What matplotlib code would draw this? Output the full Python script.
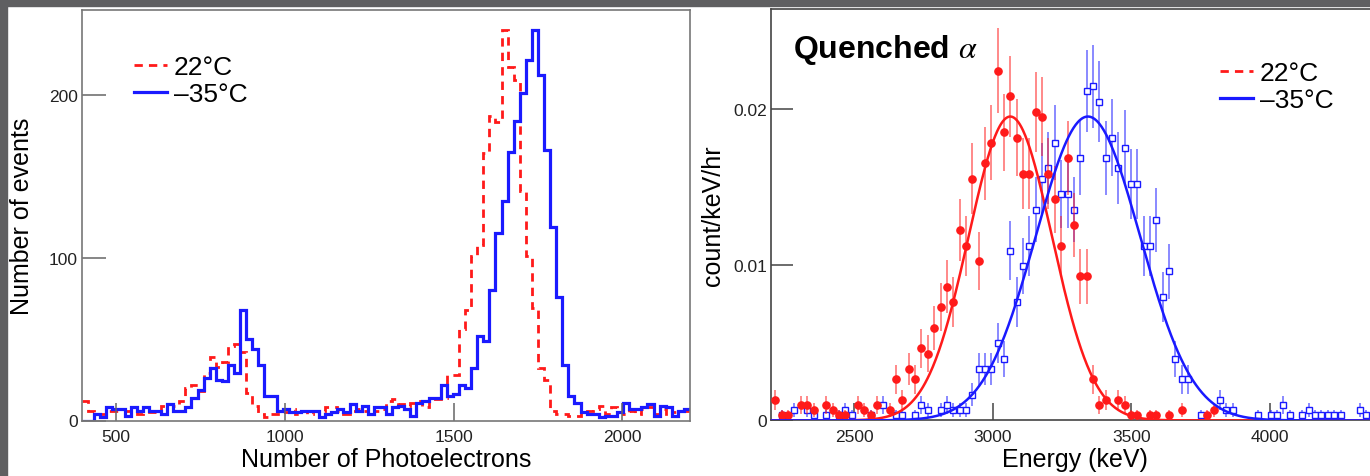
import numpy as np
import matplotlib
matplotlib.use("Agg")
import matplotlib.pyplot as plt
from matplotlib.lines import Line2D
from matplotlib.patches import Rectangle

plt.rcParams["font.family"] = ["Liberation Sans", "DejaVu Sans"]
plt.rcParams["mathtext.fontset"] = "stix"

# ---------------- left panel: photoelectron spectra ----------------
pe_lo, pe_hi, pe_nbins = 400, 2200, 100

counts_22C = [
    12, 6, 4, 4, 6, 6, 6, 6, 5, 4,
    5, 5, 5, 9, 10, 9, 12, 20, 22, 18,
    29, 39, 33, 36, 46, 47, 42, 17, 9, 4,
    2, 4, 4, 5, 7, 4, 6, 4, 6, 6,
    8, 8, 6, 4, 6, 7, 6, 8, 6, 7,
    12, 13, 10, 9, 11, 12, 8, 13, 13, 14,
    28, 28, 56, 68, 101, 108, 164, 187, 183, 240,
    217, 209, 141, 101, 69, 32, 25, 6, 4, 4,
    3, 3, 5, 6, 7, 9, 4, 8, 5, 4,
    6, 4, 7, 8, 4, 7, 3, 5, 6, 6,
]
counts_m35C = [
    0, 0, 4, 2, 8, 7, 7, 3, 8, 6,
    8, 6, 6, 4, 10, 6, 6, 8, 14, 19,
    26, 32, 25, 24, 34, 29, 68, 50, 44, 34,
    15, 15, 6, 7, 5, 5, 6, 6, 6, 2,
    4, 5, 7, 5, 10, 6, 9, 4, 8, 8,
    4, 8, 9, 7, 3, 11, 12, 14, 14, 22,
    15, 16, 22, 20, 32, 52, 49, 80, 115, 135,
    165, 184, 201, 221, 240, 212, 166, 119, 76, 34,
    15, 11, 5, 4, 4, 2, 3, 3, 5, 11,
    7, 7, 8, 10, 3, 9, 8, 3, 6, 7,
]
pe_ticks = [500, 1000, 1500, 2000]
events_ticks = [0, 100, 200]

# ---------------- right panel: quenched alpha energy spectra ----------------
e_first_center, e_bin = 2216.0, 22.9
rate_per_count = 0.00033  # count/keV/hr for one event in a bin

alpha_counts_22C = [
    4, 1, 1, 0, 3, 3, 2, 0, 3, 2,
    1, 1, 0, 3, 2, 1, 3, 0, 2, 8,
    4, 10, 8, 14, 13, 18, 22, 26, 23, 37,
    34, 47, 31, 50, 54, 68, 56, 63, 55, 48,
    48, 60, 59, 48, 43, 34, 51, 38, 28, 28,
    8, 3, 4, 0, 4, 3, 1, 1, 0, 1,
    1, 0, 1, 0, 2, 0, 0, 0, 1, 2,
    0, 0, 0, 0, 0, 0, 0, 0, 0, 0,
    0, 0, 0, 0, 0, 0, 0, 0, 0, 0,
    0, 0, 0, 0, 0,
]
alpha_counts_m35C = [
    0, 1, 0, 2, 0, 2, 1, 0, 1, 0,
    1, 2, 1, 0, 0, 1, 0, 3, 0, 1,
    1, 0, 1, 3, 2, 0, 2, 3, 2, 2,
    2, 5, 10, 10, 10, 15, 12, 33, 23, 30,
    34, 41, 47, 49, 54, 44, 44, 41, 51, 64,
    65, 62, 51, 55, 49, 53, 46, 46, 34, 34,
    39, 24, 29, 12, 8, 8, 0, 1, 0, 0,
    4, 2, 2, 0, 0, 0, 1, 0, 1, 1,
    3, 1, 0, 1, 2, 1, 1, 1, 1, 1,
    0, 0, 2, 1, 0,
]
# Gaussian fit results: amplitude, mean (keV), sigma (keV)
fit_22C = (0.0195, 3063.0, 150.0)
fit_m35C = (0.0195, 3343.0, 188.0)
energy_ticks = [2500, 3000, 3500, 4000]
rate_ticks = [0, 0.01, 0.02]
rate_tick_labels = ["0", "0.01", "0.02"]

labels = ["22\u00b0C", "\u201335\u00b0C"]
RED, BLUE = "#ff1a1a", "#1a1aff"

W, H = 1370, 477
fig = plt.figure(figsize=(W / 100, H / 100), dpi=100)

# gray frame strips along the top and left edges
fig.patches.append(Rectangle((0, 1 - 7 / H), 1, 7 / H, transform=fig.transFigure,
                             color="#5f5f61", zorder=0))
fig.patches.append(Rectangle((0, 0), 7 / W, 1, transform=fig.transFigure,
                             color="#5f5f61", zorder=0))

# ---- left axes
L_x0, L_x1, L_y0, L_y1 = 82, 690, 421.5, 11
axL = fig.add_axes([L_x0 / W, (H - L_y0) / H, (L_x1 - L_x0) / W, (L_y0 - L_y1) / H])
edges = np.linspace(pe_lo, pe_hi, pe_nbins + 1)
axL.stairs(counts_22C, edges, color=RED, lw=2.0, ls=(0, (3.0, 2.2)), baseline=None)
axL.stairs(counts_m35C, edges, color=BLUE, lw=2.3, baseline=None)
axL.set_xlim(pe_lo, pe_hi)
axL.set_ylim(0, 252)
axL.set_xticks(pe_ticks)
axL.set_yticks(events_ticks)
axL.tick_params(direction="in", labelsize=12.5, colors="#222222")
axL.tick_params(axis="x", length=13, width=1.1, color="#666666", pad=6)
axL.tick_params(axis="y", length=17, width=1.1, color="#666666", pad=3)
for s in axL.spines.values():
    s.set_color("#777777")
    s.set_linewidth(1.2)
axL.set_xlabel("Number of Photoelectrons", fontsize=18)
axL.set_ylabel("Number of events", fontsize=18)
axL.xaxis.set_label_coords(0.5, (L_y0 - 448.5) / (L_y0 - L_y1))
axL.yaxis.set_label_coords((34 - L_x0) / (L_x1 - L_x0), 0.5)
hL = [Line2D([], [], color=RED, lw=2.0, ls=(0, (3.0, 2.2))),
      Line2D([], [], color=BLUE, lw=2.3)]
axL.legend(hL, labels, loc="upper left", bbox_to_anchor=(0.0855, 0.89), frameon=False,
           fontsize=19, handlelength=1.25, handletextpad=0.25, labelspacing=0.12,
           borderpad=0, borderaxespad=0)

# ---- right axes (extends past the right edge of the canvas)
R_x0, R_x1, R_y0, R_y1 = 771, 1381, 421.4, 10
axR = fig.add_axes([R_x0 / W, (H - R_y0) / H, (R_x1 - R_x0) / W, (R_y0 - R_y1) / H])
centers = e_first_center + e_bin * np.arange(len(alpha_counts_22C))
for cnts, col, mk, mfc, z in [
    (alpha_counts_22C, RED, "o", RED, 4),
    (alpha_counts_m35C, BLUE, "s", "white", 3),
]:
    c = np.asarray(cnts, dtype=float)
    sel = c > 0
    vals = c[sel] * rate_per_count
    errs = np.sqrt(c[sel]) * rate_per_count
    axR.errorbar(centers[sel], vals, yerr=errs, fmt="none", ecolor=col, elinewidth=1.2,
                 alpha=0.6, zorder=z)
    axR.plot(centers[sel], vals, ls="none", marker=mk, ms=5.2 if mk == "o" else 4.8,
             mfc=mfc, mec=col, mew=1.0, zorder=z + 0.5)

xx = np.linspace(2200, 4400, 800)
for (amp, mu, sig), col in [(fit_22C, RED), (fit_m35C, BLUE)]:
    axR.plot(xx, amp * np.exp(-0.5 * ((xx - mu) / sig) ** 2), color=col, lw=1.8, zorder=6)

axR.set_xlim(2200, 4400)
axR.set_ylim(0, 0.0264)
axR.set_xticks(energy_ticks)
axR.set_yticks(rate_ticks)
axR.set_yticklabels(rate_tick_labels)
axR.tick_params(direction="in", labelsize=12.5, colors="#222222")
axR.tick_params(axis="x", length=12, width=1.1, color="#444444", pad=6)
axR.tick_params(axis="y", length=16, width=1.1, color="#444444", pad=3)
for s in axR.spines.values():
    s.set_color("#444444")
    s.set_linewidth(1.2)
axR.spines["right"].set_visible(False)
axR.set_xlabel("Energy (keV)", fontsize=18)
axR.set_ylabel("count/keV/hr", fontsize=18)
axR.xaxis.set_label_coords(0.5 * (1370 - R_x0) / (R_x1 - R_x0) * 1.0 + 0.0,
                           (R_y0 - 448.5) / (R_y0 - R_y1))
axR.xaxis.label.set_x((1075 - R_x0) / (R_x1 - R_x0))
axR.yaxis.set_label_coords((725 - R_x0) / (R_x1 - R_x0), 0.5)
axR.text(0.036, 0.883, "Quenched $\\alpha$", transform=axR.transAxes, fontsize=23,
         fontweight="bold", va="baseline", ha="left")
hR = [Line2D([], [], color=RED, lw=2.0, ls=(0, (3.0, 2.2))),
      Line2D([], [], color=BLUE, lw=2.3)]
axR.legend(hR, labels, loc="upper left", bbox_to_anchor=(0.736, 0.874), frameon=False,
           fontsize=19, handlelength=1.25, handletextpad=0.25, labelspacing=0.12,
           borderpad=0, borderaxespad=0)

fig.savefig("out.png", dpi=100)
